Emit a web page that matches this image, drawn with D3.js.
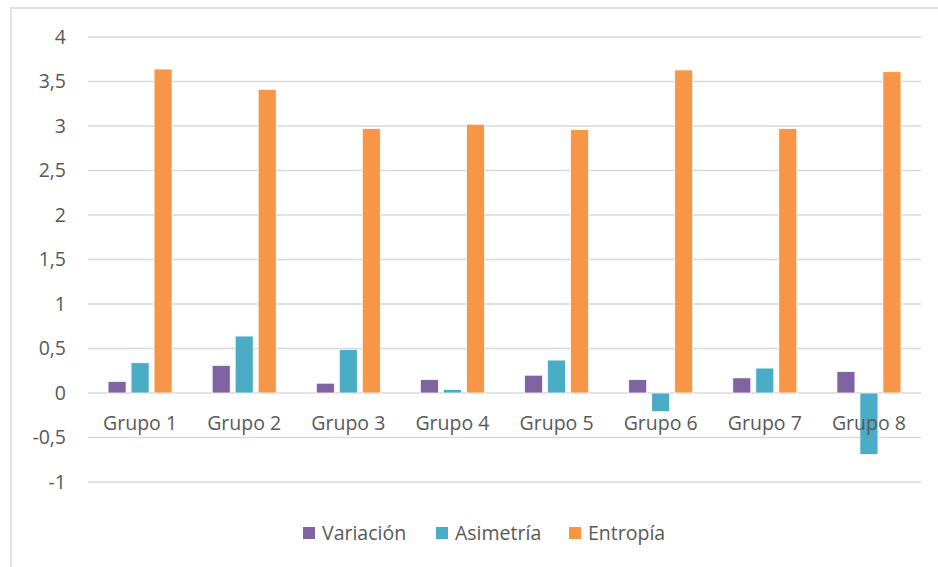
<!DOCTYPE html>
<html>
<head>
<meta charset="utf-8">
<script src="https://cdn.jsdelivr.net/npm/d3@7"></script>
<style>
  html, body { margin: 0; padding: 0; background: #fff; }
  svg { display: block; }
  text { font-family: "Open Sans", Lato, sans-serif; fill: #595959; }
</style>
</head>
<body>
<svg id="chart" width="938" height="567"></svg>
<script>
// Grouped bar data
const groups = ["Grupo 1", "Grupo 2", "Grupo 3", "Grupo 4", "Grupo 5", "Grupo 6", "Grupo 7", "Grupo 8"];
const seriesNames = ["Variación", "Asimetría", "Entropía"];
const variacion = [0.13, 0.31, 0.11, 0.15, 0.20, 0.15, 0.17, 0.24];
const asimetria = [0.34, 0.64, 0.49, 0.04, 0.37, -0.21, 0.28, -0.69];
const entropia  = [3.64, 3.41, 2.97, 3.02, 2.96, 3.63, 2.97, 3.61];
const yTicks = [-1, -0.5, 0, 0.5, 1, 1.5, 2, 2.5, 3, 3.5, 4];
const colors = ["#8064a2", "#4bacc6", "#f79646"];

const seriesValues = [variacion, asimetria, entropia];

const svg = d3.select("#chart");

// chart frame
svg.append("rect")
  .attr("x", 11).attr("y", 8)
  .attr("width", 960).attr("height", 600)
  .attr("fill", "none")
  .attr("stroke", "#d9d9d9")
  .attr("stroke-width", 1.5);

const y = d3.scaleLinear().domain([-1, 4]).range([482, 37]);
const x0 = d3.scaleBand().domain(groups).range([88, 921]).padding(0);
const x1 = d3.scaleBand().domain(seriesNames).range([0, 64]).paddingInner(5 / 23).paddingOuter(0);

// gridlines
svg.append("g")
  .selectAll("line")
  .data(yTicks)
  .join("line")
  .attr("x1", 88).attr("x2", 921)
  .attr("y1", d => y(d)).attr("y2", d => y(d))
  .attr("stroke", "#d9d9d9")
  .attr("stroke-width", 1.5);

// y axis labels
const fmt = d => String(d).replace(".", ",");
svg.append("g")
  .selectAll("text")
  .data(yTicks)
  .join("text")
  .attr("x", 66)
  .attr("y", d => y(d))
  .attr("dy", "0.35em")
  .attr("text-anchor", "end")
  .style("font-size", "19.5px")
  .text(fmt);

// bars
const rows = groups.map((g, i) => ({ g, vals: seriesNames.map((s, k) => ({ s, v: seriesValues[k][i], k })) }));
const gGroups = svg.append("g")
  .selectAll("g")
  .data(rows)
  .join("g")
  .attr("transform", d => `translate(${x0(d.g) + x0.bandwidth() / 2 - 32},0)`);

gGroups.selectAll("rect")
  .data(d => d.vals)
  .join("rect")
  .attr("x", d => x1(d.s))
  .attr("width", x1.bandwidth())
  .attr("y", d => y(Math.max(0, d.v)))
  .attr("height", d => Math.abs(y(d.v) - y(0)))
  .attr("fill", d => colors[d.k])
  .attr("stroke", "#fff")
  .attr("stroke-width", 0.75);

// category labels
svg.append("g")
  .selectAll("text")
  .data(groups)
  .join("text")
  .attr("x", d => x0(d) + x0.bandwidth() / 2)
  .attr("y", 423)
  .attr("dy", "0.35em")
  .attr("text-anchor", "middle")
  .style("font-size", "19.5px")
  .text(d => d);

// legend
const legendX = [303, 436, 569];
const legend = svg.append("g")
  .selectAll("g")
  .data(seriesNames)
  .join("g")
  .attr("transform", (d, i) => `translate(${legendX[i]},527)`);
legend.append("rect")
  .attr("width", 12).attr("height", 12)
  .attr("fill", (d, i) => colors[i]);
legend.append("text")
  .attr("x", 19).attr("y", 6)
  .attr("dy", "0.35em")
  .style("font-size", "19.5px")
  .text(d => d);
</script>
</body>
</html>
